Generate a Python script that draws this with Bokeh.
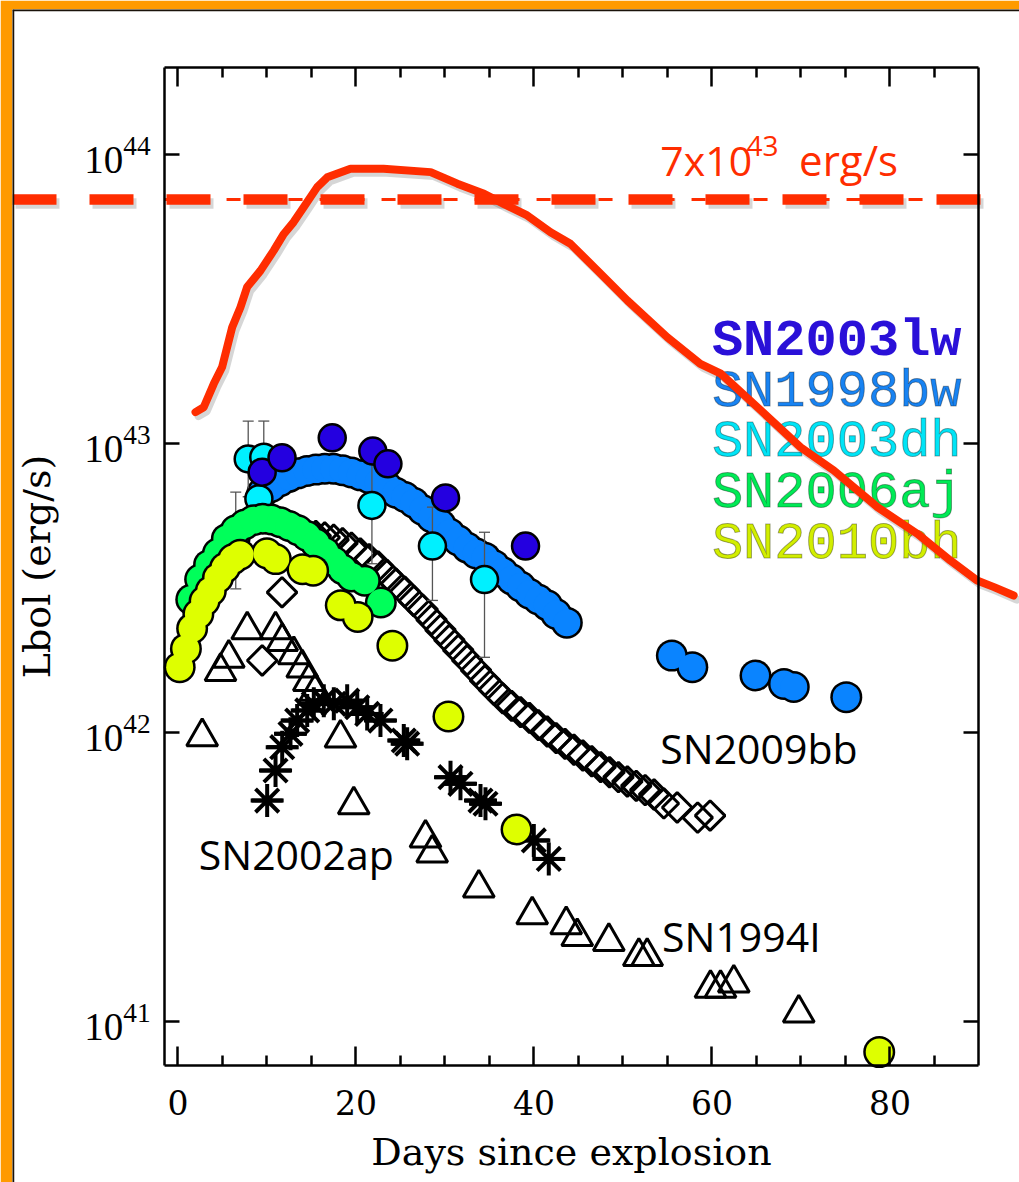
import numpy as np
from bokeh.plotting import figure
from bokeh.models import Range1d, LinearAxis, LogAxis, FixedTicker, LogTickFormatter, Span
from bokeh.core.properties import value
from bokeh.embed import file_html
from bokeh.resources import INLINE

# ---------------- data ----------------
# SN1998bw (log10 Lbol)
bw98_day = [9.5, 10.5, 11.5, 12.5, 13.5, 14.5, 15.5, 16.5, 17.5, 18.5, 19.5, 20.5, 21.5, 22.5,
            23.5, 24.5, 25.5, 26.5, 27.5, 28.5, 29.5, 30.5, 31.5, 32.5, 33.5, 34.5, 35.5, 36.5,
            37.5, 38.5, 39.5, 40.5, 41.5, 42.5, 43.7, 55.5, 57.8, 64.9, 68.1, 69.2, 75.1]
bw98_log = [42.83, 42.85, 42.87, 42.885, 42.897, 42.905, 42.91, 42.913, 42.913, 42.908, 42.90,
            42.89, 42.88, 42.865, 42.85, 42.83, 42.815, 42.795, 42.77, 42.745, 42.72, 42.69,
            42.665, 42.64, 42.62, 42.605, 42.58, 42.555, 42.53, 42.505, 42.48, 42.46, 42.44,
            42.41, 42.38, 42.266, 42.226, 42.197, 42.168, 42.157, 42.122]

# SN2003lw
lw03_day = [9.47, 11.7, 17.34, 21.9, 23.6, 30.07, 39.06]
lw03_log = [42.901, 42.951, 43.02, 42.974, 42.93, 42.812, 42.645]

# SN2003dh (with error bars)
dh03_day = [6.5, 7.9, 9.65, 9.1, 21.8, 28.6, 34.45]
dh03_log = [42.67, 42.947, 42.953, 42.809, 42.786, 42.645, 42.529]
dh03_hi = [42.832, 43.078, 43.078, 42.809, 42.93, 42.78, 42.693]
dh03_lo = [42.497, 42.816, 42.83, 42.809, 42.584, 42.457, 42.26]

# SN2006aj
aj06_day = [1.5, 2.5, 3.5, 4.5, 5.5, 6.5, 7.5, 8.5, 9.5, 10.5, 11.5, 12.5, 13.5, 14.5, 15.5,
            16.5, 17.5, 18.5, 19.5, 21.0, 22.8]
aj06_log = [42.46, 42.53, 42.58, 42.62, 42.67, 42.70, 42.72, 42.735, 42.74, 42.737, 42.728,
            42.715, 42.70, 42.68, 42.655, 42.625, 42.593, 42.565, 42.54, 42.525, 42.45]

# SN2010bh
bh10_day = [0.2, 0.9, 1.6, 2.3, 3.0, 3.7, 4.5, 5.3, 6.2, 7.0, 10.0, 11.0, 14.0, 15.2, 18.3,
            20.2, 24.1, 30.4, 38.05, 78.8]
bh10_log = [42.226, 42.29, 42.36, 42.41, 42.455, 42.49, 42.535, 42.57, 42.60, 42.615, 42.62,
            42.60, 42.565, 42.56, 42.44, 42.40, 42.30, 42.055, 41.664, 40.893]

# SN2009bb (open diamonds)
bb09_day = [9.47, 11.7, 15.5, 16.5, 17.5, 18.5, 19.5, 20.5, 21.5, 22.5, 23.5, 24.5, 25.5, 26.5,
            27.5, 28.5, 29.5, 30.5, 31.5, 32.5, 33.5, 34.5, 35.5, 36.5, 37.5, 38.5, 39.5, 40.5,
            41.5, 42.5, 43.5, 44.5, 45.5, 46.5, 47.5, 48.5, 49.5, 50.5, 51.5, 52.5, 53.5, 54.6,
            56.1, 58.4, 59.8]
bb09_log = [42.249, 42.485, 42.68, 42.675, 42.667, 42.655, 42.64, 42.62, 42.60, 42.575, 42.545,
            42.515, 42.487, 42.455, 42.425, 42.39, 42.355, 42.32, 42.285, 42.25, 42.215, 42.18,
            42.148, 42.118, 42.092, 42.07, 42.05, 42.025, 42.003, 41.98, 41.96, 41.94, 41.92,
            41.90, 41.88, 41.862, 41.845, 41.83, 41.815, 41.80, 41.785, 41.754, 41.74, 41.705,
            41.712]

# SN1994I (open triangles)
i94_day = [2.73, 4.79, 5.72, 7.79, 10.97, 11.72, 13.02, 13.97, 14.71, 15.46, 18.27, 19.76,
           27.82, 28.57, 33.81, 39.81, 43.63, 44.87, 48.42, 51.79, 52.73, 59.84, 60.97, 62.46,
           69.76]
i94_log = [41.985, 42.211, 42.257, 42.355, 42.355, 42.315, 42.269, 42.223, 42.176, 42.142,
           41.98, 41.749, 41.634, 41.582, 41.461, 41.368, 41.334, 41.293, 41.276, 41.224,
           41.224, 41.114, 41.114, 41.132, 41.028]

# SN2002ap (asterisks)
ap02_day = [10.03, 10.97, 11.72, 12.65, 13.40, 14.53, 15.27, 16.39, 17.52, 19.02, 20.15, 21.27,
            22.76, 25.38, 25.76, 30.63, 31.75, 34.0, 34.56, 39.99, 41.67]
ap02_log = [41.764, 41.868, 41.949, 41.995, 42.041, 42.076, 42.099, 42.110, 42.099, 42.110,
            42.087, 42.064, 42.041, 41.972, 41.961, 41.845, 41.822, 41.764, 41.753, 41.626,
            41.562]

# model curve (red)
model_day = [1.98, 2.9, 4.03, 4.97, 6.1, 7.03, 7.78, 9.28, 10.78, 11.9, 13.0, 14.15, 15.65,
             16.78, 19.39, 23.1, 28.4, 31.4, 34.4, 36.6, 39.25, 41.87, 44.1, 47.5, 50.5, 55.0,
             58.7, 61.0, 65.5, 69.96, 73.7, 78.6, 83.07, 86.8, 89.8, 91.7, 93.9]
model_log = [43.109, 43.126, 43.207, 43.265, 43.403, 43.472, 43.542, 43.599, 43.669, 43.726,
             43.767, 43.819, 43.888, 43.922, 43.952, 43.952, 43.940, 43.90, 43.865, 43.830,
             43.790, 43.732, 43.692, 43.588, 43.4955, 43.368, 43.276, 43.242, 43.115, 42.9875,
             42.907, 42.78, 42.688, 42.595, 42.526, 42.503, 42.474]

threshold = 7e43
legend_names = ["SN2003lw", "SN1998bw", "SN2003dh", "SN2006aj", "SN2010bh"]
x_ticks = [0, 20, 40, 60, 80]
x_minor = [5, 10, 15, 25, 30, 35, 45, 50, 55, 65, 70, 75, 85]
y_ticks = [1e41, 1e42, 1e43, 1e44]

L = lambda a: [10.0 ** v for v in a]

# ---------------- geometry ----------------
W, H = 1019, 1182
FL, FT = 12, 9
X0_PX, PX_PER_DAY = 177.4, 8.9
Y44_PX, PX_PER_DEC = 154.3, 288.8
x_start = (FL - X0_PX) / PX_PER_DAY
x_end = (W - X0_PX) / PX_PER_DAY
ylog_top = 44 + (Y44_PX - FT) / PX_PER_DEC
ylog_bot = 44 - (H - Y44_PX) / PX_PER_DEC
XMIN, XMAX = -1.5, 90.0
YMIN, YMAX = 7e40, 2e44
TXT_DY = -16  # screen offset so that text baselines sit where the reference has them

C_LW = "#2400E0"
C_BW = "#0A84FF"
C_DH = "#00F0FF"
C_AJ = "#00FF5A"
C_BH = "#DEFF00"
RED = "#FF2D00"
SHADOW = "rgba(0,0,0,0.16)"

p = figure(width=W, height=H, x_range=Range1d(x_start, x_end),
           y_range=Range1d(10 ** ylog_bot, 10 ** ylog_top), y_axis_type="log",
           x_axis_location=None, y_axis_location=None,
           output_backend="svg", toolbar_location=None,
           min_border_left=FL, min_border_top=FT, min_border_right=0, min_border_bottom=0,
           background_fill_color="white", border_fill_color="#FF9A00",
           outline_line_color=None)
p.grid.visible = False

# dark rule between the orange frame and the white panel
p.add_layout(Span(location=x_start, dimension="height", line_color="#1a1209", line_width=3.5))
p.add_layout(Span(location=10 ** ylog_top, dimension="width", line_color="#1a1209", line_width=3.5))

xt = FixedTicker(ticks=x_ticks, minor_ticks=x_minor)
yt = FixedTicker(ticks=y_ticks, minor_ticks=[])


def style_axis(ax, tick_in, minor_in):
    ax.axis_line_width = 2.5
    ax.axis_line_color = "black"
    ax.major_tick_in = tick_in
    ax.major_tick_out = 0
    ax.minor_tick_in = minor_in
    ax.minor_tick_out = 0
    ax.major_tick_line_width = 2.5
    ax.minor_tick_line_width = 2.5
    ax.major_tick_line_color = "black"
    ax.minor_tick_line_color = "black"
    ax.major_label_text_color = "black"
    ax.axis_label_text_color = "black"


xb = LinearAxis(ticker=xt, bounds=(XMIN, XMAX), fixed_location=YMIN,
                axis_label="Days since explosion")
style_axis(xb, 19, 10)
xb.major_label_text_font = "DejaVu Serif"
xb.major_label_text_font_size = "33px"
xb.major_label_standoff = 24
xb.axis_label_text_font = "DejaVu Serif"
xb.axis_label_text_font_size = "38px"
xb.axis_label_text_font_style = "normal"
xb.axis_label_standoff = 12
p.add_layout(xb, "below")

xtop = LinearAxis(ticker=xt, bounds=(XMIN, XMAX), fixed_location=YMAX)
style_axis(xtop, 19, 10)
xtop.major_label_text_color = None
p.add_layout(xtop, "above")

yl = LogAxis(ticker=yt, formatter=LogTickFormatter(), bounds=(YMIN, YMAX), fixed_location=XMIN,
             axis_label="Lbol (erg/s)")
style_axis(yl, 15, 0)
yl.major_label_text_font = "Liberation Serif"
yl.major_label_text_font_size = "39px"
yl.major_label_standoff = 14
yl.axis_label_text_font = "DejaVu Serif"
yl.axis_label_text_font_size = "38px"
yl.axis_label_text_font_style = "normal"
yl.axis_label_standoff = 22
p.add_layout(yl, "left")

yr = LogAxis(ticker=yt, formatter=LogTickFormatter(), bounds=(YMIN, YMAX), fixed_location=XMAX)
style_axis(yr, 15, 0)
yr.major_label_text_color = None
p.add_layout(yr, "right")

# ---------------- data marks ----------------
p.scatter(i94_day, L(i94_log), marker="triangle", size=31, fill_color=None,
          line_color="black", line_width=3)
p.scatter(ap02_day, L(ap02_log), marker="asterisk", size=33, line_color="black", line_width=4)
p.scatter(ap02_day, L(ap02_log), marker="dash", size=31, line_color="black", line_width=4)
p.scatter(bb09_day, L(bb09_log), marker="square", size=21, angle=np.pi / 4, fill_color=None,
          line_color="black", line_width=3)


def blob(days, logs, color):
    # black rim first, colour on top: overlapping discs merge into one outlined band
    p.scatter(days, L(logs), marker="circle", size=32, fill_color="black", line_color=None)
    p.scatter(days, L(logs), marker="circle", size=27, fill_color=color, line_color=None)


blob(bw98_day, bw98_log, C_BW)
# error bars of SN2003dh
p.segment(dh03_day, L(dh03_lo), dh03_day, L(dh03_hi), line_color="#555555", line_width=1.3)
p.scatter(dh03_day, L(dh03_hi), marker="dash", size=11, line_color="#555555", line_width=1.3)
p.scatter(dh03_day, L(dh03_lo), marker="dash", size=11, line_color="#555555", line_width=1.3)
p.scatter(dh03_day, L(dh03_log), marker="circle", size=27, fill_color=C_DH,
          line_color="black", line_width=2.5)
p.scatter(lw03_day, L(lw03_log), marker="circle", size=27, fill_color=C_LW,
          line_color="black", line_width=2.5)
blob(aj06_day, aj06_log, C_AJ)
blob(bh10_day, bh10_log, C_BH)


def add_text(**kw):
    try:
        return p.text(**kw)
    except Exception:
        kw.pop("text_outline_color", None)
        return p.text(**kw)


# legend-like coloured names
leg_y = [43.297, 43.1205, 42.947, 42.771, 42.595]
leg_col = ["#2A10D8", "#1883F2", "#00E4F6", "#00EA55", "#D2EE00"]
for i, (nm, yy, cc) in enumerate(zip(legend_names, leg_y, leg_col)):
    add_text(x=[60.0], y=[10 ** yy], text=[nm], text_font=value("Liberation Mono"),
             text_font_size="52px", text_font_style="bold" if i == 0 else "normal",
             text_color=cc, text_outline_color="rgba(0,0,0,0.35)" if i > 0 else None,
             text_align="left", text_baseline="alphabetic", y_offset=TXT_DY)

# black supernova names
for nm, xx, yy in [("SN2009bb", 54.2, 41.892), ("SN2002ap", 2.35, 41.522), ("SN1994I", 54.4, 41.238)]:
    p.text(x=[xx], y=[10 ** yy], text=[nm], text_font=value("Open Sans"), text_font_size="41px",
           text_color="black", text_align="left", text_baseline="alphabetic", y_offset=TXT_DY)

# model curve and threshold (with a soft drop shadow as in the reference)
sdx, sfy = 3 / PX_PER_DAY, 10 ** (-4 / PX_PER_DEC)
p.line([d + sdx for d in model_day], [v * sfy for v in L(model_log)], line_color=SHADOW,
       line_width=8, line_join="round", line_cap="round")
p.line([x_start + sdx, 90.5 + sdx], [threshold * sfy] * 2, line_color=SHADOW, line_width=10.5,
       line_dash="44 33")
p.line(model_day, L(model_log), line_color=RED, line_width=8, line_join="round", line_cap="round")
p.line([XMIN, XMAX], [threshold, threshold], line_color=RED, line_width=3, line_dash="14 17")
p.line([x_start, 90.5], [threshold, threshold], line_color=RED, line_width=10.5, line_dash="44 33")

p.text(x=[54.2], y=[10 ** 43.928], text=["7x10"], text_font=value("Open Sans"),
       text_font_size="41px", text_color=RED, text_align="left", text_baseline="alphabetic",
       y_offset=TXT_DY)
p.text(x=[63.9], y=[10 ** 43.975], text=["43"], text_font=value("Open Sans"),
       text_font_size="28px", text_color=RED, text_align="left", text_baseline="alphabetic",
       y_offset=TXT_DY)
p.text(x=[69.8], y=[10 ** 43.928], text=["erg/s"], text_font=value("Open Sans"),
       text_font_size="42px", text_color=RED, text_align="left", text_baseline="alphabetic",
       y_offset=TXT_DY)

open("out.html", "w").write(file_html(p, INLINE))
